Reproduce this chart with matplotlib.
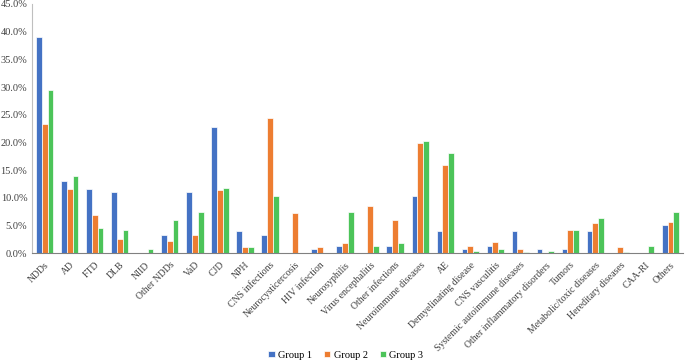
import matplotlib.pyplot as plt
import numpy as np
from matplotlib.ticker import FuncFormatter

plt.rcParams['font.family'] = ['Liberation Serif', 'DejaVu Serif']

categories = ['NDDs', 'AD', 'FTD', 'DLB', 'NIID', 'Other NDDs', 'VaD', 'CJD', 'NPH',
              'CNS infections', 'Neurocysticercosis', 'HIV infection', 'Neurosyphilis',
              'Virus encephalitis', 'Other infections', 'Neuroimmune diseases', 'AE',
              'Demyelinating disease', 'CNS vasculitis', 'Systemic autoimmune diseases',
              'Other inflammatory disorders', 'Tumors', 'Metabolic/toxic diseases',
              'Hereditary diseases', 'CAA-RI', 'Others']

# percentages
group1 = [39.0, 13.1, 11.7, 11.1, 0.0, 3.3, 11.1, 22.8, 4.0, 3.3, 0.0, 0.7, 1.3,
          0.0, 1.3, 10.4, 4.0, 0.7, 1.3, 4.0, 0.7, 0.7, 4.0, 0.0, 0.0, 5.2]
group2 = [23.3, 11.6, 6.9, 2.6, 0.0, 2.2, 3.4, 11.4, 1.1, 24.5, 7.2, 1.1, 1.8,
          8.6, 6.0, 20.0, 15.9, 1.3, 2.0, 0.8, 0.0, 4.3, 5.5, 1.1, 0.0, 5.6]
group3 = [29.5, 13.9, 4.6, 4.2, 0.8, 6.1, 7.5, 11.8, 1.1, 10.4, 0.0, 0.0, 7.4,
          1.3, 1.8, 20.3, 18.2, 0.5, 0.8, 0.3, 0.5, 4.2, 6.3, 0.3, 1.3, 7.5]

series = [('Group 1', group1, '#4472C4'),
          ('Group 2', group2, '#ED7D31'),
          ('Group 3', group3, '#4CC459')]

fig = plt.figure(figsize=(6.85, 3.63), dpi=100)
ax = fig.add_axes([0.047, 0.302, 0.950, 0.687])

x = np.arange(len(categories))
w = 0.23
for i, (name, vals, col) in enumerate(series):
    ax.bar(x + (i - 1) * w, vals, width=w, color=col, edgecolor='white',
           linewidth=0.5, label=name)

ax.set_xlim(-0.5, len(categories) - 0.5)
ax.set_ylim(0, 45)
ax.set_yticks(np.arange(0, 46, 5))
ax.yaxis.set_major_formatter(FuncFormatter(lambda v, p: f'{v:.1f}%'))
ax.set_xticks(x)
ax.set_xticklabels(categories, rotation=45, ha='right', rotation_mode='anchor')
ax.tick_params(axis='both', length=0, labelsize=7, colors='#404040')
ax.tick_params(axis='x', pad=5)
ax.tick_params(axis='y', labelsize=7.5)

for s in ['top', 'right']:
    ax.spines[s].set_visible(False)
ax.spines['left'].set_color('#BFBFBF')
ax.spines['bottom'].set_color('#808080')

fig.legend(loc='center', bbox_to_anchor=(0.505, 0.022), ncol=3, frameon=False,
           fontsize=7.5, handlelength=0.6, handleheight=0.6, handletextpad=0.3,
           columnspacing=1.2)

fig.savefig('out.png', dpi=100)
